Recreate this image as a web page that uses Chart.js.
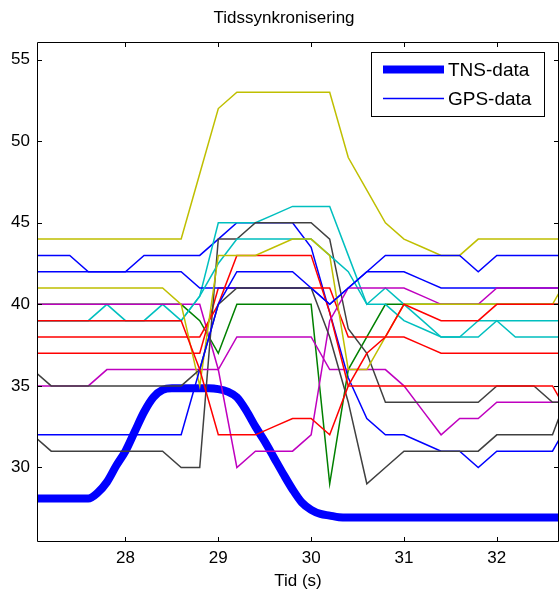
<!DOCTYPE html>
<html><head><meta charset="utf-8">
<script src="https://cdn.jsdelivr.net/npm/chart.js@4/dist/chart.umd.min.js"></script>
<style>html,body{margin:0;padding:0;background:#fff}#wrap{width:559px;height:595px;position:relative}</style>
</head><body><div id="wrap"><canvas id="c" width="559" height="595"></canvas></div>
<script>
// ---- data ----
const titleText = 'Tidssynkronisering';
const xLabel = 'Tid (s)';
const xTicks = [28, 29, 30, 31, 32];
const yTicks = [30, 35, 40, 45, 50, 55];

const tTns = [27.0,27.6,27.7,27.8,27.9,28.0,28.1,28.2,28.3,28.4,28.5,28.9,29.0,29.1,29.2,29.3,29.4,29.5,29.6,29.7,29.8,29.9,30.0,30.1,30.2,30.3,30.4,32.8];
const tns  = [28.1,28.1,28.45,29.1,30.1,31.0,32.2,33.4,34.3,34.75,34.85,34.85,34.8,34.65,34.3,33.5,32.5,31.6,30.6,29.6,28.65,27.85,27.4,27.15,27.05,26.95,26.93,26.93];

const tGps = [27.0,27.2,27.4,27.6,27.8,28.0,28.2,28.4,28.6,28.8,29.0,29.2,29.4,29.6,29.8,30.0,30.2,30.4,30.6,30.8,31.0,31.2,31.4,31.6,31.8,32.0,32.2,32.4,32.6,32.8];
const gpsB1 = [43,43,43,42,42,42,43,43,43,43,44,45,45,45,45,43.5,39.5,35.5,33,32,32,31.5,31,31,30,31,31,31,31,33];
const gpsG1 = [40,40,40,40,40,40,40,40,40,39,37,40,40,40,40,40,29,36,38,40,40,40,40,40,40,40,40,40,40,40];
const gpsR3 = [37,37,37,37,37,37,37,37,37,37,41,41,41,41,41,41,41,38,38,38,38,37.5,37,37,37,37,37,37,37,37];
const gpsC1 = [39,39,39,39,40,39,39,40,39,40.5,45,45,45,45.5,46,46,46,43,40,41,40,39,38,38,39,39,39,39,39,39];
const gpsM1 = [40,40,40,40,40,40,40,40,40,40,36,38,38,38,38,38,36,36,36,36,35,33.5,32,33,33,34,34,34,34,34];
const gpsY1 = [44,44,44,44,44,44,44,44,44,48,52,53,53,53,53,53,53,49,47,45,44,43.5,43,43,44,44,44,44,44,44];
const gpsK1 = [32,31,31,31,31,31,31,31,30,30,44,44,45,45,45,45,44,38.5,37,34,34,34,34,34,34,35,35,35,34,34];
const gpsB2 = [42,42,42,42,42,42,42,42,42,41,41,41,41,41,41,41,40,41,42,42,42,41.5,41,41,41,41,41,41,41,41];
const gpsR2 = [38,38,38,38,38,38,38,38,38,38,40,43,43,43,43,43,39.5,35,35,35,35,35,35,35,35,35,35,35,35,33];
const gpsC2 = [39,39,39,39,39,39,39,39,39,40.5,42.5,44,44,44,44,44,43,42,40,40,39,38.5,38,38,38,39,38,38,38,38];
const gpsM2 = [35,35,35,35,36,36,36,36,36,36,36,30,31,31,31,32,39,41,41,41,41,40.5,40,40,40,41,41,41,41,41];
const gpsY2 = [41,41,41,41,41,41,41,41,40,35,43,43,43,43.5,44,44,43,36,36,38,40,40,40,40,40,40,40,40,40,42];
const gpsK2 = [36,35,35,35,35,35,35,35,35,36,40,41,41,41,41,41,38,34,29,30,31,31,31,31,31,32,32,32,32,35];
const gpsB3 = [32,32,32,32,32,32,32,32,32,36,40,42,42,42,42,41,40,41,42,43,43,43,43,43,42,43,43,43,43,43];
const gpsR1 = [39,39,39,39,39,39,39,39,39,36,32,32,32,32.5,33,33,32,35,37,38,40,39.5,39,39,39,40,40,40,40,40];

const C = {b:'#0000ff', g:'#008000', r:'#ff0000', c:'#00bfbf', m:'#bf00bf', y:'#bfbf00', k:'#404040'};
// plotting order (first = bottom)
const gpsSeries = [
  [gpsB1,C.b],[gpsG1,C.g],[gpsR3,C.r],[gpsC1,C.c],[gpsM1,C.m],[gpsY1,C.y],[gpsK1,C.k],
  [gpsB2,C.b],[gpsR2,C.r],[gpsC2,C.c],[gpsM2,C.m],[gpsY2,C.y],[gpsK2,C.k],
  [gpsB3,C.b],[gpsR1,C.r]
];

const FONT = "'Liberation Sans', Arial, Helvetica, sans-serif";
const datasets = [];
datasets.push({
  label: 'TNS-data', data: tTns.map((t,i)=>({x:t,y:tns[i]})),
  borderColor: C.b, backgroundColor: C.b, borderWidth: 8, pointRadius: 0,
  tension: 0.4, cubicInterpolationMode: 'monotone', borderJoinStyle: 'round', fill: false
});
gpsSeries.forEach(([vals,col],k)=>{
  datasets.push({
    label: 'GPS-data', data: tGps.map((t,i)=>({x:t,y:vals[i]})),
    borderColor: col, backgroundColor: col, borderWidth: 1.5, pointRadius: 0, tension: 0, fill: false
  });
});
const N = datasets.length;
datasets.forEach((d,i)=>{ d.order = N - i; });

const matlab = {
  id: 'matlab',
  afterDraw(chart){
    const {ctx, chartArea:a, scales:{x,y}} = chart;
    ctx.save();
    ctx.strokeStyle = '#000'; ctx.lineWidth = 1;
    ctx.beginPath();
    ctx.rect(a.left+0.5, a.top+0.5, a.right-a.left-1, a.bottom-a.top-1);
    ctx.stroke();
    const tl = 5;
    ctx.beginPath();
    xTicks.forEach(v=>{ const p = Math.round(x.getPixelForValue(v))+0.5;
      ctx.moveTo(p,a.bottom); ctx.lineTo(p,a.bottom-tl); ctx.moveTo(p,a.top); ctx.lineTo(p,a.top+tl); });
    yTicks.forEach(v=>{ const p = Math.round(y.getPixelForValue(v))+0.5;
      ctx.moveTo(a.left,p); ctx.lineTo(a.left+tl,p); ctx.moveTo(a.right,p); ctx.lineTo(a.right-tl,p); });
    ctx.stroke();
    // title
    ctx.fillStyle = '#000';
    ctx.font = '17px ' + FONT;
    ctx.textAlign = 'center'; ctx.textBaseline = 'middle';
    ctx.fillText(titleText, 284, 18);
    // legend box
    const L = {x0:371, y0:52, x1:545, y1:117};
    ctx.fillStyle = '#fff';
    ctx.fillRect(L.x0, L.y0, L.x1-L.x0, L.y1-L.y0);
    ctx.strokeStyle = '#000'; ctx.lineWidth = 1;
    ctx.strokeRect(L.x0+0.5, L.y0+0.5, L.x1-L.x0-1, L.y1-L.y0-1);
    const items = [datasets[0], datasets[1]];
    const rowsY = [69.5, 98.5];
    items.forEach((d,i)=>{
      ctx.strokeStyle = d.borderColor;
      ctx.lineWidth = d.borderWidth;
      ctx.lineCap = 'butt';
      ctx.beginPath(); ctx.moveTo(383, rowsY[i]); ctx.lineTo(444, rowsY[i]); ctx.stroke();
      ctx.fillStyle = '#000';
      ctx.font = '19px ' + FONT;
      ctx.textAlign = 'left'; ctx.textBaseline = 'middle';
      ctx.fillText(d.label, 448, rowsY[i]+1);
    });
    ctx.restore();
  }
};

new Chart(document.getElementById('c'), {
  type: 'line',
  data: { datasets },
  options: {
    responsive: false, animation: false,
    layout: { padding: { top: 42, right: 0, left: 0, bottom: 0 } },
    plugins: { legend: { display: false }, tooltip: { enabled: false }, title: { display: false } },
    scales: {
      x: {
        type: 'linear', min: 27.047, max: 32.67,
        afterBuildTicks: s => { s.ticks = xTicks.map(v=>({value:v})); },
        afterFit: s => { s.height = 53; s.paddingLeft = 0; s.paddingRight = 0; },
        grid: { display: false, drawTicks: false }, border: { display: false },
        ticks: { color: '#000', padding: 6, maxRotation: 0, font: { family: FONT, size: 17 } },
        title: { display: true, text: xLabel, color: '#000', padding: { top: 0, bottom: 3 }, font: { family: FONT, size: 17 } }
      },
      y: {
        type: 'linear', min: 25.43, max: 56.08,
        afterBuildTicks: s => { s.ticks = yTicks.map(v=>({value:v})); },
        afterFit: s => { s.width = 37; s.paddingTop = 0; s.paddingBottom = 0; },
        grid: { display: false, drawTicks: false }, border: { display: false },
        ticks: { color: '#000', padding: 7, font: { family: FONT, size: 17 } }
      }
    }
  },
  plugins: [matlab]
});
</script>
</body></html>
